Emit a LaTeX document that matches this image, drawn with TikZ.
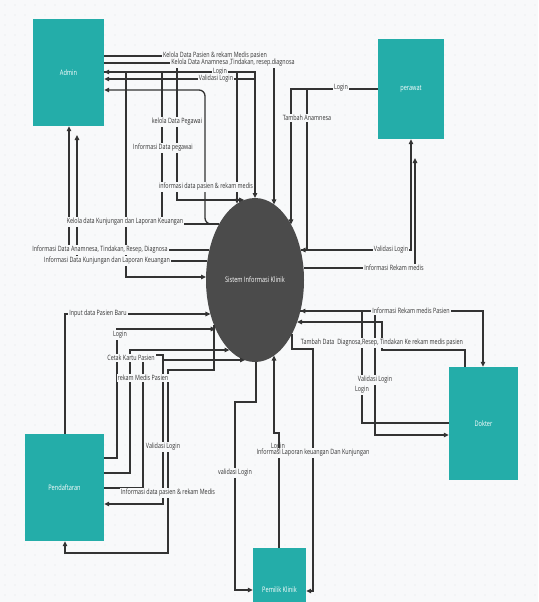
\documentclass[tikz,border=0pt]{standalone}
\usepackage{fontspec}
\setmainfont{Open Sans}[FakeStretch=0.74]
\usetikzlibrary{arrows.meta,shapes.geometric}
\definecolor{bg}{HTML}{F8F9FA}
\definecolor{griddot}{HTML}{E2E4E8}
\definecolor{boxteal}{HTML}{24ADA9}
\definecolor{sysgray}{HTML}{4B4B4B}
\definecolor{flow}{HTML}{333333}
\begin{document}
\begin{tikzpicture}[x=1pt,y=-1pt,
  flowline/.style={draw=flow, line width=1.3pt},
  arr/.style={-{Triangle[length=5pt,width=4.5pt]}},
  entity/.style={fill=boxteal, draw=none, text=white, inner sep=0pt,
    font=\fontsize{7.6}{8}\selectfont},
  lbl/.style={fill=bg, inner sep=1pt, text=flow, font=\fontsize{7.3}{8}\selectfont},
  lblclear/.style={inner sep=1pt, text=flow, font=\fontsize{7.3}{8}\selectfont}
]
\useasboundingbox (0,0) rectangle (538,602);
\fill[bg] (0,0) rectangle (538,602);
\foreach \gx in {5,15,...,535}
  \foreach \gy in {5,15,...,595}
    \fill[griddot] (\gx,\gy) circle (0.6pt);

% entities and the process
\node[entity, minimum width=71pt, minimum height=107pt] (admin) at (68.5,72.5) {Admin};
\node[entity, minimum width=66pt, minimum height=100pt] (perawat) at (411,89) {perawat};
\node[entity, minimum width=69pt, minimum height=113pt] (dokter) at (483.5,423.5) {Dokter};
\node[entity, minimum width=79pt, minimum height=107pt] (pendaftaran) at (64.5,487.5) {Pendaftaran};
\node[entity, minimum width=53pt, minimum height=84pt] (pemilik) at (279.5,590) {Pemilik Klinik};
\node[ellipse, fill=sysgray, inner sep=0pt, minimum width=98pt, minimum height=164pt,
  text=white, font=\fontsize{7.6}{8}\selectfont] (sys) at (255,280) {Sistem Informasi Klinik};

% Admin flows
\draw[flowline,arr] (admin.east |- 0,56) -- (177,56) -- (177,200) -- (244.2,200);
\draw[flowline,arr] (admin.east |- 0,63) -- (274,63) -- (274,204.4);
\draw[flowline,arr] (admin.east |- 0,72) -- (237,72) -- (237,203.8);
\draw[flowline,arr] (237,72) -- (255,72) -- (255,198);
\draw[flowline,arr] (255,79) -- (admin.east |- 0,79);
\draw[flowline,arr] (219.2,224) -- (162,224) -- (162,72) -- (admin.east |- 0,72);
\draw[flowline,arr,rounded corners=6pt] (219.2,224) -- (205,224) -- (205,90) -- (admin.east |- 0,90);
\draw[flowline,arr] (126,72) -- (126,277) -- (206,277);
\draw[flowline,arr] (209.4,250) -- (69,250) -- (admin.south -| 69,0);
\draw[flowline,arr] (207.3,261) -- (77,261) -- (77,135);

% perawat flows
\draw[flowline,arr] (perawat.west) -- (291,89) -- (291,224.4);
\draw[flowline,arr] (307,89) -- (307,250) -- (300.6,250);
\draw[flowline,arr] (300.6,250) -- (411,250) -- (perawat.south -| 411,0);
\draw[flowline,arr] (303.5,268) -- (415,268) -- (415,158);

% Pendaftaran flows
\draw[flowline,arr] (pendaftaran.north -| 65,0) -- (65,314) -- (210.4,314);
\draw[flowline,arr] (pendaftaran.east |- 0,458) -- (117,458) -- (117,329) -- (215.7,329);
\draw[flowline,arr] (pendaftaran.east |- 0,473) -- (130,473) -- (130,350) -- (229.5,350);
\draw[flowline,arr] (pendaftaran.east |- 0,488) -- (143,488) -- (143,355) -- (163,355) -- (163,360) -- (245,360);
\draw[flowline,arr] (163,360) -- (163,504) -- (pendaftaran.east |- 0,504);
\draw[flowline,arr] (214,325) -- (214,370) -- (168,370) -- (168,553) -- (65,553) -- (pendaftaran.south -| 65,0);

% Pemilik Klinik flows
\draw[flowline,arr] (256,362) -- (256,402) -- (235,402) -- (235,590) -- (pemilik.west |- 0,590);
\draw[flowline,arr] (pemilik.north -| 279,0) -- (279,433) -- (274,433) -- (274,355.6);
\draw[flowline,arr] (292,333.8) -- (292,349) -- (313,349) -- (313,591) -- (pemilik.east |- 0,591);

% Dokter flows
\draw[flowline,arr] (300.4,311) -- (483,311) -- (dokter.north -| 483,0);
\draw[flowline,arr] (dokter.west |- 0,423) -- (362,423) -- (362,311) -- (300.4,311);
\draw[flowline,arr] (375,311) -- (375,435) -- (dokter.west |- 0,435);
\draw[flowline,arr] (dokter.north -| 465,0) -- (465,350) -- (382,350) -- (382,322) -- (297.1,322);

% flow labels
\node[lbl] (l1) at (215,56) {Kelola Data Pasien \& rekam Medis pasien};
\node[lbl] (l2) at (233,63) {Kelola Data Anamnesa ,Tindakan, resep.diagnosa};
\node[lbl] (l3) at (220,72) {Login};
\node[lbl] (l4) at (216,79) {Validasi Login};
\node[lbl] (l5) at (177,122) {kelola Data Pegawai};
\node[lbl] (l6) at (163,148) {Informasi Data pegawai};
\node[lbl] (l7) at (206,187) {informasi data pasien \& rekam medis};
\node[lbl] (l8) at (125,222) {Kelola data Kunjungan dan Laporan Keuangan};
\node[lbl] (l9) at (100,250) {Informasi Data Anamnesa, Tindakan, Resep, Diagnosa};
\node[lbl] (l10) at (107,261) {Informasi Data Kunjungan dan Laporan Keuangan};
\node[lbl] (l11) at (341,88) {Login};
\node[lbl] (l12) at (307,118) {Tambah Anamnesa};
\node[lbl] (l13) at (391,250) {Validasi Login};
\node[lbl] (l14) at (394,268) {Informasi Rekam medis};
\node[lbl] (l15) at (98,314) {Input data Pasien Baru};
\node[lbl] (l16) at (120,335) {Login};
\node[lbl] (l17) at (131,358) {Cetak Kartu Pasien};
\node[lbl] (l18) at (143,378) {rekam Medis Pasien};
\node[lbl] (l19) at (163,447) {Validasi Login};
\node[lbl] (l20) at (168,493) {Informasi data pasien \& rekam Medis};
\node[lbl] (l21) at (235,473) {validasi Login};
\node[lbl] (l23) at (313,453) {Informasi Laporan keuangan Dan Kunjungan};
\node[lblclear] (l22) at (278,447) {Login};
\node[lbl] (l24) at (411,311) {Informasi Rekam medis Pasien};
\node[lbl] (l25) at (382,343) {Tambah Data\ \ Diagnosa,Resep, Tindakan Ke rekam medis pasien};
\node[lbl] (l26) at (375,380) {Validasi Login};
\node[lbl] (l27) at (362,390) {Login};
\end{tikzpicture}
\end{document}
